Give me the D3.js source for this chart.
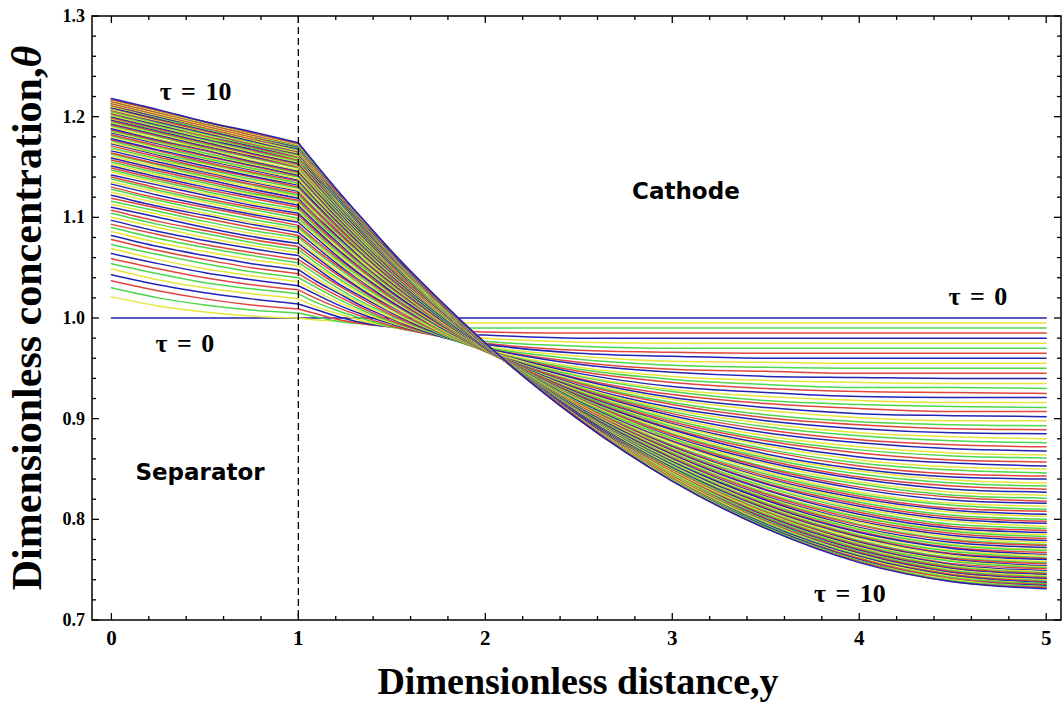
<!DOCTYPE html>
<html><head><meta charset="utf-8">
<script src="https://cdn.jsdelivr.net/npm/d3@7"></script>
<style>body{margin:0;background:#fff}</style>
</head><body>
<svg id="chart" width="1063" height="704"></svg>
<script>
// Concentration profiles θ(y) for τ = 0 … 10 (step 0.1), sampled at fixed stations along y.
const tauValues=[0,0.1,0.2,0.3,0.4,0.5,0.6,0.7,0.8,0.9,
1,1.1,1.2,1.3,1.4,1.5,1.6,1.7,1.8,1.9,2,2.1,2.2,2.3,2.4,2.5,2.6,2.7,2.8,2.9,
3,3.1,3.2,3.3,3.4,3.5,3.6,3.7,3.8,3.9,4,4.1,4.2,4.3,4.4,4.5,4.6,4.7,4.8,4.9,
5,5.1,5.2,5.3,5.4,5.5,5.6,5.7,5.8,5.9,6,6.1,6.2,6.3,6.4,6.5,6.6,6.7,6.8,6.9,
7,7.1,7.2,7.3,7.4,7.5,7.6,7.7,7.8,7.9,8,8.1,8.2,8.3,8.4,8.5,8.6,8.7,8.8,8.9,
9,9.1,9.2,9.3,9.4,9.5,9.6,9.7,9.8,9.9,10];
const separatorStations=[0,0.25,0.5,0.75,1];
const cathodeStations=[1,1.1,1.2,1.35,1.5,1.75,2,2.5,3,3.5,4,4.5,5];

const theta_y0=[1.000,1.021,1.030,1.037,1.043,1.049,1.054,1.059,1.064,1.069,
1.073,1.078,1.082,1.086,1.090,1.093,1.097,1.100,1.104,1.107,
1.110,1.113,1.116,1.119,1.122,1.125,1.128,1.130,1.133,1.135,
1.138,1.140,1.142,1.145,1.147,1.149,1.151,1.153,1.155,1.157,
1.159,1.161,1.163,1.164,1.166,1.168,1.169,1.171,1.173,1.174,
1.176,1.177,1.178,1.180,1.181,1.182,1.184,1.185,1.186,1.187,
1.188,1.190,1.191,1.192,1.193,1.194,1.195,1.196,1.197,1.198,
1.199,1.199,1.200,1.201,1.202,1.203,1.204,1.204,1.205,1.206,
1.207,1.207,1.208,1.209,1.209,1.210,1.211,1.211,1.212,1.212,
1.213,1.213,1.214,1.214,1.215,1.215,1.216,1.216,1.217,1.217,1.218];
const theta_y025=[1.000,1.012,1.020,1.027,1.033,1.038,1.044,1.049,1.054,1.058,
1.063,1.067,1.071,1.075,1.079,1.083,1.086,1.090,1.093,1.096,
1.100,1.103,1.106,1.109,1.111,1.114,1.117,1.119,1.122,1.125,
1.127,1.129,1.132,1.134,1.136,1.138,1.140,1.142,1.144,1.146,
1.148,1.150,1.152,1.153,1.155,1.157,1.158,1.160,1.162,1.163,
1.164,1.166,1.167,1.169,1.170,1.171,1.173,1.174,1.175,1.176,
1.177,1.178,1.180,1.181,1.182,1.183,1.184,1.185,1.186,1.187,
1.187,1.188,1.189,1.190,1.191,1.192,1.192,1.193,1.194,1.195,
1.195,1.196,1.197,1.197,1.198,1.199,1.199,1.200,1.200,1.201,
1.202,1.202,1.203,1.203,1.204,1.204,1.205,1.205,1.206,1.206,1.207];
const theta_y050=[1.000,1.006,1.013,1.019,1.025,1.030,1.035,1.040,1.045,1.049,
1.054,1.058,1.062,1.066,1.070,1.073,1.077,1.080,1.084,1.087,
1.090,1.093,1.096,1.099,1.102,1.104,1.107,1.110,1.112,1.115,
1.117,1.119,1.122,1.124,1.126,1.128,1.130,1.132,1.134,1.136,
1.138,1.140,1.141,1.143,1.145,1.146,1.148,1.149,1.151,1.153,
1.154,1.155,1.157,1.158,1.159,1.161,1.162,1.163,1.164,1.166,
1.167,1.168,1.169,1.170,1.171,1.172,1.173,1.174,1.175,1.176,
1.177,1.178,1.178,1.179,1.180,1.181,1.182,1.182,1.183,1.184,
1.184,1.185,1.186,1.186,1.187,1.188,1.188,1.189,1.190,1.190,
1.191,1.191,1.192,1.192,1.193,1.193,1.194,1.194,1.195,1.195,1.195];
const theta_y075=[1.000,1.002,1.008,1.013,1.019,1.024,1.029,1.033,1.038,1.042,
1.046,1.050,1.054,1.058,1.062,1.065,1.069,1.072,1.075,1.078,
1.081,1.084,1.087,1.090,1.093,1.095,1.098,1.101,1.103,1.105,
1.108,1.110,1.112,1.114,1.116,1.119,1.121,1.123,1.124,1.126,
1.128,1.130,1.132,1.133,1.135,1.136,1.138,1.140,1.141,1.143,
1.144,1.145,1.147,1.148,1.149,1.151,1.152,1.153,1.154,1.155,
1.156,1.157,1.159,1.160,1.161,1.162,1.163,1.163,1.164,1.165,
1.166,1.167,1.168,1.169,1.169,1.170,1.171,1.172,1.172,1.173,
1.174,1.174,1.175,1.176,1.176,1.177,1.178,1.178,1.179,1.179,
1.180,1.180,1.181,1.181,1.182,1.182,1.183,1.183,1.184,1.184,1.185];
const theta_y100=[1.000,1.000,1.005,1.009,1.014,1.019,1.024,1.028,1.032,1.036,
1.040,1.044,1.048,1.052,1.055,1.058,1.062,1.065,1.068,1.071,
1.074,1.077,1.080,1.082,1.085,1.088,1.090,1.092,1.095,1.097,
1.099,1.102,1.104,1.106,1.108,1.110,1.112,1.114,1.116,1.117,
1.119,1.121,1.122,1.124,1.126,1.127,1.129,1.130,1.132,1.133,
1.134,1.136,1.137,1.138,1.140,1.141,1.142,1.143,1.144,1.145,
1.146,1.147,1.149,1.150,1.151,1.151,1.152,1.153,1.154,1.155,
1.156,1.157,1.158,1.158,1.159,1.160,1.161,1.161,1.162,1.163,
1.163,1.164,1.165,1.165,1.166,1.166,1.167,1.168,1.168,1.169,
1.169,1.170,1.170,1.171,1.171,1.172,1.172,1.172,1.173,1.173,1.174];
const theta_y110=[1.000,0.998,1.001,1.004,1.008,1.011,1.015,1.019,1.023,1.026,
1.030,1.033,1.036,1.039,1.043,1.046,1.049,1.051,1.054,1.057,
1.060,1.062,1.065,1.067,1.070,1.072,1.074,1.076,1.079,1.081,
1.083,1.085,1.087,1.089,1.090,1.092,1.094,1.096,1.097,1.099,
1.101,1.102,1.104,1.105,1.107,1.108,1.110,1.111,1.112,1.114,
1.115,1.116,1.117,1.118,1.120,1.121,1.122,1.123,1.124,1.125,
1.126,1.127,1.128,1.129,1.130,1.130,1.131,1.132,1.133,1.134,
1.135,1.135,1.136,1.137,1.137,1.138,1.139,1.140,1.140,1.141,
1.141,1.142,1.143,1.143,1.144,1.144,1.145,1.145,1.146,1.146,
1.147,1.147,1.148,1.148,1.149,1.149,1.149,1.150,1.150,1.151,1.151];
const theta_y120=[1.000,0.997,0.997,0.999,1.002,1.005,1.008,1.011,1.014,1.017,
1.020,1.023,1.026,1.028,1.031,1.034,1.036,1.039,1.041,1.044,
1.046,1.048,1.051,1.053,1.055,1.057,1.059,1.061,1.063,1.065,
1.067,1.069,1.070,1.072,1.074,1.075,1.077,1.079,1.080,1.082,
1.083,1.085,1.086,1.087,1.089,1.090,1.091,1.092,1.094,1.095,
1.096,1.097,1.098,1.099,1.100,1.101,1.102,1.103,1.104,1.105,
1.106,1.107,1.108,1.109,1.109,1.110,1.111,1.112,1.112,1.113,
1.114,1.115,1.115,1.116,1.117,1.117,1.118,1.118,1.119,1.120,
1.120,1.121,1.121,1.122,1.122,1.123,1.123,1.124,1.124,1.125,
1.125,1.125,1.126,1.126,1.127,1.127,1.127,1.128,1.128,1.128,1.129];
const theta_y135=[1.000,0.996,0.994,0.994,0.995,0.997,0.999,1.001,1.003,1.005,
1.007,1.009,1.011,1.013,1.015,1.018,1.020,1.022,1.024,1.026,
1.027,1.029,1.031,1.033,1.035,1.036,1.038,1.040,1.041,1.043,
1.045,1.046,1.048,1.049,1.050,1.052,1.053,1.054,1.056,1.057,
1.058,1.059,1.061,1.062,1.063,1.064,1.065,1.066,1.067,1.068,
1.069,1.070,1.071,1.072,1.073,1.074,1.074,1.075,1.076,1.077,
1.078,1.078,1.079,1.080,1.080,1.081,1.082,1.082,1.083,1.084,
1.084,1.085,1.085,1.086,1.086,1.087,1.088,1.088,1.089,1.089,
1.089,1.090,1.090,1.091,1.091,1.092,1.092,1.092,1.093,1.093,
1.094,1.094,1.094,1.095,1.095,1.095,1.096,1.096,1.096,1.097,1.097];
const theta_y150=[1.000,0.995,0.992,0.991,0.991,0.991,0.991,0.992,0.994,0.995,
0.996,0.997,0.999,1.000,1.002,1.003,1.005,1.006,1.008,1.009,
1.011,1.012,1.014,1.015,1.016,1.018,1.019,1.020,1.022,1.023,
1.024,1.025,1.026,1.028,1.029,1.030,1.031,1.032,1.033,1.034,
1.035,1.036,1.037,1.038,1.039,1.040,1.041,1.041,1.042,1.043,
1.044,1.045,1.045,1.046,1.047,1.047,1.048,1.049,1.049,1.050,
1.051,1.051,1.052,1.052,1.053,1.054,1.054,1.055,1.055,1.056,
1.056,1.057,1.057,1.057,1.058,1.058,1.059,1.059,1.060,1.060,
1.060,1.061,1.061,1.061,1.062,1.062,1.062,1.063,1.063,1.063,
1.064,1.064,1.064,1.065,1.065,1.065,1.065,1.066,1.066,1.066,1.066];
const theta_y175=[1.000,0.995,0.991,0.988,0.985,0.984,0.983,0.982,0.982,0.982,
0.982,0.982,0.982,0.983,0.983,0.984,0.984,0.985,0.985,0.986,
0.987,0.987,0.988,0.989,0.990,0.990,0.991,0.992,0.992,0.993,
0.994,0.994,0.995,0.996,0.996,0.997,0.998,0.998,0.999,0.999,
1.000,1.001,1.001,1.002,1.002,1.003,1.003,1.004,1.004,1.005,
1.005,1.006,1.006,1.006,1.007,1.007,1.008,1.008,1.009,1.009,
1.009,1.010,1.010,1.010,1.011,1.011,1.011,1.012,1.012,1.012,
1.012,1.013,1.013,1.013,1.014,1.014,1.014,1.014,1.015,1.015,
1.015,1.015,1.015,1.016,1.016,1.016,1.016,1.016,1.017,1.017,
1.017,1.017,1.017,1.018,1.018,1.018,1.018,1.018,1.018,1.018,1.019];
const theta_y200=[1.000,0.995,0.990,0.986,0.983,0.980,0.977,0.975,0.974,0.972,
0.971,0.970,0.970,0.969,0.968,0.968,0.968,0.968,0.967,0.967,
0.967,0.967,0.967,0.967,0.967,0.967,0.967,0.967,0.968,0.968,
0.968,0.968,0.968,0.968,0.968,0.969,0.969,0.969,0.969,0.969,
0.969,0.969,0.970,0.970,0.970,0.970,0.970,0.970,0.970,0.971,
0.971,0.971,0.971,0.971,0.971,0.971,0.971,0.972,0.972,0.972,
0.972,0.972,0.972,0.972,0.972,0.972,0.973,0.973,0.973,0.973,
0.973,0.973,0.973,0.973,0.973,0.973,0.973,0.974,0.974,0.974,
0.974,0.974,0.974,0.974,0.974,0.974,0.974,0.974,0.974,0.974,
0.974,0.974,0.974,0.974,0.975,0.975,0.975,0.975,0.975,0.975,0.975];
const theta_y250=[1.000,0.995,0.990,0.985,0.980,0.976,0.972,0.968,0.965,0.962,
0.959,0.956,0.954,0.951,0.949,0.947,0.945,0.943,0.942,0.940,
0.939,0.937,0.936,0.935,0.933,0.932,0.931,0.930,0.929,0.928,
0.927,0.926,0.925,0.924,0.924,0.923,0.922,0.921,0.921,0.920,
0.919,0.919,0.918,0.917,0.917,0.916,0.916,0.915,0.914,0.914,
0.913,0.913,0.912,0.912,0.911,0.911,0.911,0.910,0.910,0.909,
0.909,0.908,0.908,0.908,0.907,0.907,0.907,0.906,0.906,0.906,
0.905,0.905,0.905,0.904,0.904,0.904,0.904,0.903,0.903,0.903,
0.903,0.902,0.902,0.902,0.902,0.901,0.901,0.901,0.901,0.901,
0.900,0.900,0.900,0.900,0.900,0.900,0.899,0.899,0.899,0.899,0.899];
const theta_y300=[1.000,0.995,0.990,0.985,0.980,0.975,0.970,0.966,0.962,0.957,
0.953,0.949,0.946,0.942,0.939,0.936,0.932,0.929,0.927,0.924,
0.921,0.919,0.916,0.914,0.911,0.909,0.907,0.905,0.903,0.901,
0.899,0.897,0.895,0.894,0.892,0.890,0.889,0.887,0.885,0.884,
0.882,0.881,0.880,0.878,0.877,0.876,0.874,0.873,0.872,0.871,
0.870,0.869,0.868,0.867,0.866,0.865,0.864,0.863,0.862,0.861,
0.860,0.859,0.858,0.857,0.857,0.856,0.855,0.854,0.854,0.853,
0.852,0.851,0.851,0.850,0.850,0.849,0.848,0.848,0.847,0.847,
0.846,0.846,0.845,0.844,0.844,0.844,0.843,0.843,0.842,0.842,
0.841,0.841,0.840,0.840,0.840,0.839,0.839,0.839,0.838,0.838,0.838];
const theta_y350=[1.000,0.995,0.990,0.985,0.980,0.975,0.970,0.965,0.960,0.956,
0.951,0.947,0.942,0.938,0.934,0.930,0.926,0.922,0.918,0.915,
0.911,0.908,0.904,0.901,0.898,0.895,0.892,0.889,0.886,0.883,
0.880,0.878,0.875,0.873,0.870,0.868,0.865,0.863,0.861,0.859,
0.857,0.855,0.852,0.851,0.849,0.847,0.845,0.843,0.841,0.840,
0.838,0.836,0.835,0.833,0.832,0.830,0.829,0.827,0.826,0.825,
0.823,0.822,0.821,0.820,0.819,0.817,0.816,0.815,0.814,0.813,
0.812,0.811,0.810,0.809,0.808,0.807,0.806,0.806,0.805,0.804,
0.803,0.802,0.802,0.801,0.800,0.799,0.799,0.798,0.797,0.797,
0.796,0.795,0.795,0.794,0.794,0.793,0.793,0.792,0.792,0.791,0.791];
const theta_y400=[1.000,0.995,0.990,0.985,0.980,0.975,0.970,0.965,0.960,0.955,
0.950,0.945,0.941,0.936,0.931,0.927,0.922,0.918,0.914,0.910,
0.905,0.901,0.897,0.894,0.890,0.886,0.883,0.879,0.876,0.872,
0.869,0.866,0.862,0.859,0.856,0.853,0.850,0.848,0.845,0.842,
0.840,0.837,0.835,0.832,0.830,0.827,0.825,0.823,0.821,0.819,
0.817,0.815,0.813,0.811,0.809,0.807,0.805,0.803,0.802,0.800,
0.798,0.797,0.795,0.794,0.792,0.791,0.790,0.788,0.787,0.785,
0.784,0.783,0.782,0.781,0.779,0.778,0.777,0.776,0.775,0.774,
0.773,0.772,0.771,0.770,0.769,0.768,0.768,0.767,0.766,0.765,
0.764,0.763,0.763,0.762,0.761,0.761,0.760,0.759,0.759,0.758,0.757];
const theta_y450=[1.000,0.995,0.990,0.985,0.980,0.975,0.970,0.965,0.960,0.955,
0.950,0.945,0.940,0.935,0.931,0.926,0.921,0.916,0.912,0.907,
0.903,0.898,0.894,0.890,0.886,0.882,0.878,0.874,0.870,0.866,
0.863,0.859,0.856,0.852,0.849,0.845,0.842,0.839,0.836,0.833,
0.830,0.827,0.824,0.822,0.819,0.816,0.814,0.811,0.809,0.807,
0.804,0.802,0.800,0.798,0.795,0.793,0.791,0.789,0.788,0.786,
0.784,0.782,0.780,0.779,0.777,0.775,0.774,0.772,0.771,0.769,
0.768,0.766,0.765,0.764,0.762,0.761,0.760,0.759,0.758,0.756,
0.755,0.754,0.753,0.752,0.751,0.750,0.749,0.748,0.747,0.746,
0.745,0.745,0.744,0.743,0.742,0.741,0.740,0.740,0.739,0.738,0.738];
const theta_y500=[1.000,0.995,0.990,0.985,0.980,0.975,0.970,0.965,0.960,0.955,
0.950,0.945,0.940,0.935,0.930,0.925,0.921,0.916,0.911,0.907,
0.902,0.898,0.893,0.889,0.885,0.880,0.876,0.872,0.868,0.864,
0.861,0.857,0.853,0.850,0.846,0.843,0.840,0.836,0.833,0.830,
0.827,0.824,0.821,0.818,0.816,0.813,0.810,0.808,0.805,0.803,
0.800,0.798,0.796,0.793,0.791,0.789,0.787,0.785,0.783,0.781,
0.779,0.777,0.775,0.774,0.772,0.770,0.769,0.767,0.765,0.764,
0.762,0.761,0.760,0.758,0.757,0.756,0.754,0.753,0.752,0.751,
0.749,0.748,0.747,0.746,0.745,0.744,0.743,0.742,0.741,0.740,
0.739,0.738,0.737,0.736,0.736,0.735,0.734,0.733,0.733,0.732,0.731];

const separatorSeries=[theta_y0,theta_y025,theta_y050,theta_y075,theta_y100];
const cathodeSeries=[theta_y100,theta_y110,theta_y120,theta_y135,theta_y150,theta_y175,
  theta_y200,theta_y250,theta_y300,theta_y350,theta_y400,theta_y450,theta_y500];
const bad=separatorSeries.concat(cathodeSeries).findIndex(a=>a.length!==tauValues.length);
if(bad>=0) throw new Error("series length mismatch at "+bad);

const xTicks=[0,1,2,3,4,5];
const yTicks=[0.7,0.8,0.9,1.0,1.1,1.2,1.3];
const curveColors=["#2323b4","#e6e63a","#4cd84c","#e2453e"];
const annotations=[
  {text:"τ = 10",y:0.45,theta:1.2165},
  {text:"τ = 0",y:0.393,theta:0.966},
  {text:"τ = 0",y:4.635,theta:1.013},
  {text:"τ = 10",y:3.95,theta:0.718}];
const regions=[{text:"Cathode",y:3.073,theta:1.118},{text:"Separator",y:0.474,theta:0.839}];

const L=92,R=1061,T=16,B=620;
const svg=d3.select("#chart");
const x=d3.scaleLinear().domain([0,5]).range([111.4,1046.2]);
const y=d3.scaleLinear().domain([0.7,1.3]).range([B,T]);

svg.append("clipPath").attr("id","plotclip").append("rect")
  .attr("x",L).attr("y",T).attr("width",R-L).attr("height",B-T);
const g=svg.append("g").attr("clip-path","url(#plotclip)");
const line=d3.line().x(d=>x(d[0])).y(d=>y(d[1])).curve(d3.curveMonotoneX);
tauValues.forEach((tau,k)=>{
  const sep=separatorStations.map((s,j)=>[s,separatorSeries[j][k]]);
  const cat=cathodeStations.map((s,j)=>[s,cathodeSeries[j][k]]);
  g.append("path").attr("d",line(sep)+line(cat)).attr("fill","none")
    .attr("stroke",curveColors[k%curveColors.length]).attr("stroke-width",1.5)
    .attr("stroke-linecap","round").attr("stroke-linejoin","round");
});

// separator / cathode boundary
svg.append("line").attr("x1",x(1)).attr("x2",x(1)).attr("y1",T).attr("y2",B)
  .attr("stroke","#000").attr("stroke-width",1.3).attr("stroke-dasharray","7,4");
svg.append("rect").attr("x",L).attr("y",T).attr("width",R-L).attr("height",B-T)
  .attr("fill","none").attr("stroke","#000").attr("stroke-width",1.5);

// inward ticks on all four sides
const xMinor=d3.range(0,5.001,0.2).filter(v=>Math.abs(v-Math.round(v))>1e-6);
const yMinor=d3.range(0.72,1.29,0.02).filter(v=>Math.abs(v*10-Math.round(v*10))>1e-6);
function xTick(list,len){
  list.forEach(v=>{
    svg.append("line").attr("x1",x(v)).attr("x2",x(v)).attr("y1",B).attr("y2",B-len).attr("stroke","#000").attr("stroke-width",1.3);
    svg.append("line").attr("x1",x(v)).attr("x2",x(v)).attr("y1",T).attr("y2",T+len).attr("stroke","#000").attr("stroke-width",1.3);
  });
}
function yTick(list,len){
  list.forEach(v=>{
    svg.append("line").attr("x1",L).attr("x2",L+len).attr("y1",y(v)).attr("y2",y(v)).attr("stroke","#000").attr("stroke-width",1.3);
    svg.append("line").attr("x1",R).attr("x2",R-len).attr("y1",y(v)).attr("y2",y(v)).attr("stroke","#000").attr("stroke-width",1.3);
  });
}
xTick(xTicks,7);xTick(xMinor,4);yTick(yTicks,7);yTick(yMinor,4);

const serif="'Liberation Serif','Times New Roman',serif";
const sans="'DejaVu Sans',Verdana,sans-serif";
xTicks.forEach(v=>svg.append("text").attr("x",x(v)).attr("y",645).attr("text-anchor","middle")
  .attr("font-family",serif).attr("font-weight","bold").attr("font-size",21).text(v));
yTicks.forEach(v=>svg.append("text").attr("x",85).attr("y",y(v)+6).attr("text-anchor","end")
  .attr("font-family",serif).attr("font-weight","bold").attr("font-size",18).text(v.toFixed(1)));

svg.append("text").attr("x",578).attr("y",694).attr("text-anchor","middle").attr("font-family",serif)
  .attr("font-weight","bold").attr("font-size",38).text("Dimensionless distance,y");
const yt=svg.append("text").attr("transform","translate(41,318) rotate(-90)").attr("text-anchor","middle")
  .attr("font-family",serif).attr("font-weight","bold").attr("font-size",42);
yt.append("tspan").text("Dimensionless concentration,");
yt.append("tspan").attr("font-style","italic").text("θ");

annotations.forEach(a=>svg.append("text").attr("x",x(a.y)).attr("y",y(a.theta)).attr("text-anchor","middle")
  .attr("font-family",serif).attr("font-weight","bold").attr("font-size",26).attr("word-spacing",3).text(a.text));
regions.forEach(a=>svg.append("text").attr("x",x(a.y)).attr("y",y(a.theta)).attr("text-anchor","middle")
  .attr("font-family",sans).attr("font-weight","bold").attr("font-size",23).text(a.text));
</script>
</body></html>
